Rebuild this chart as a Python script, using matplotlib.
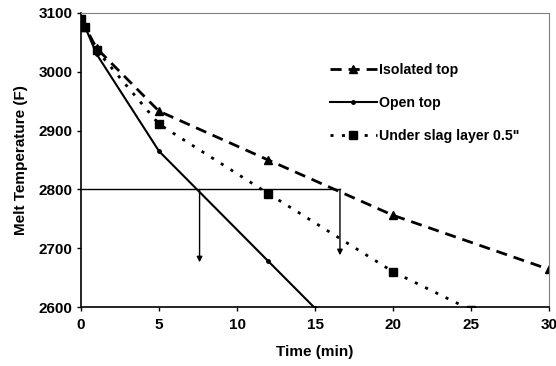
import matplotlib
matplotlib.use("Agg")
import matplotlib.pyplot as plt

plt.rcParams['font.family'] = ['Liberation Sans', 'DejaVu Sans']
plt.rcParams['font.weight'] = 'bold'

# ------------------------------
# data
# ------------------------------
iso_t = [0, 0.25, 1, 5, 12, 20, 30]
iso_temp = [3090, 3077, 3040, 2933, 2850, 2756, 2664]

open_t = [0, 0.25, 1, 5, 12, 15]
open_temp = [3090, 3077, 3030, 2865, 2678, 2598]

slag_t = [0, 0.25, 1, 5, 12, 20, 25]
slag_temp = [3090, 3077, 3037, 2911, 2793, 2660, 2595]

ref_temp = 2800
arrow_t = [7.6, 16.6]
arrow_end = [2676, 2688]

xticks = [0, 5, 10, 15, 20, 25, 30]
yticks = [2600, 2700, 2800, 2900, 3000, 3100]

fig = plt.figure(figsize=(5.56, 3.66), dpi=100)
ax = fig.add_axes([0.1457, 0.1612, 0.8417, 0.8033])

ax.plot(iso_t, iso_temp, color='black', lw=2, dashes=(4, 2.5),
        marker='^', ms=5.8, label='Isolated top')
ax.plot(open_t, open_temp, color='black', lw=1.5,
        marker='o', ms=2.5, label='Open top')
ax.plot(slag_t, slag_temp, color='black', lw=2, dashes=(1.1, 3),
        marker='s', ms=5.8, label='Under slag layer 0.5"')

# reference line and arrows
ax.plot([0, arrow_t[1]], [ref_temp, ref_temp], color='black', lw=1)
for t, y in zip(arrow_t, arrow_end):
    ax.annotate('', xy=(t, y), xytext=(t, ref_temp),
                arrowprops=dict(arrowstyle='-|>', color='black', lw=1,
                                mutation_scale=8, shrinkA=0, shrinkB=0))

ax.set_xlim(0, 30)
ax.set_ylim(2600, 3100)
ax.set_xticks(xticks)
ax.set_yticks(yticks)
ax.tick_params(labelsize=11, length=3, direction='out', width=1)
ax.tick_params(axis='x', pad=5)
ax.tick_params(axis='y', pad=3)
for lab in ax.get_xticklabels() + ax.get_yticklabels():
    lab.set_fontweight('bold')

ax.set_xlabel('Time (min)', fontsize=11, fontweight='bold', labelpad=9)
ax.set_ylabel('Melt Temperature (F)', fontsize=11, fontweight='bold', labelpad=8)

ax.spines['top'].set_color('#808080')
ax.spines['right'].set_color('#808080')
ax.spines['left'].set_linewidth(1.2)
ax.spines['bottom'].set_linewidth(1.2)

leg = ax.legend(loc='upper left', bbox_to_anchor=(0.52, 0.85), frameon=False,
                fontsize=10.2, numpoints=1, handlelength=3.3, handletextpad=0.15,
                labelspacing=1.35, borderaxespad=0)
for txt in leg.get_texts():
    txt.set_fontweight('bold')

fig.savefig('out.png', dpi=100)
